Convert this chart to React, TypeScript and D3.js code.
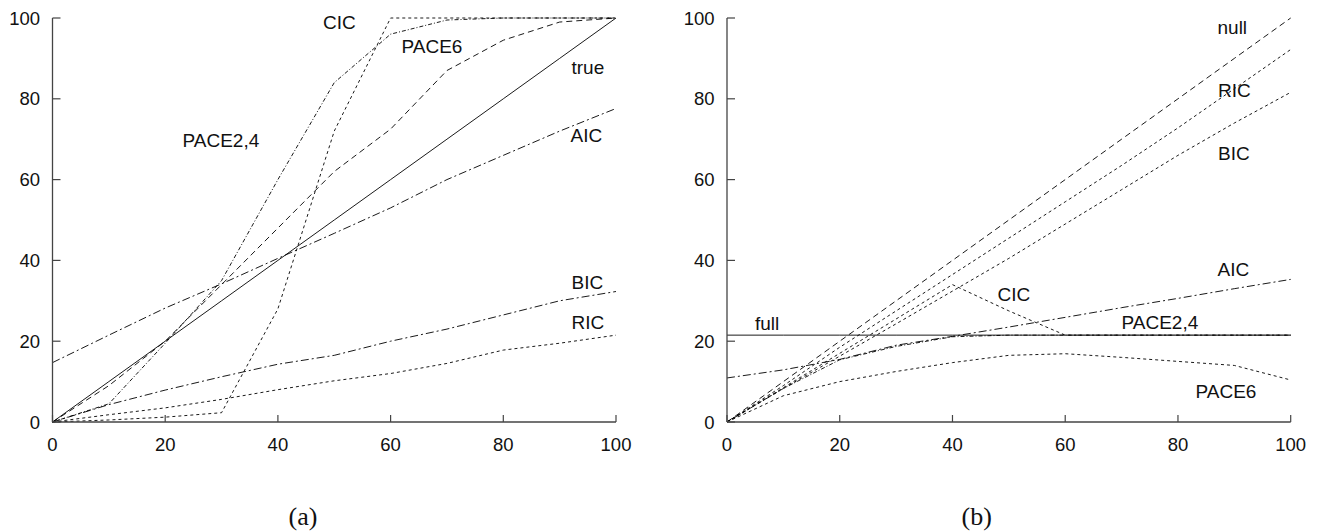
import React from "react";
import * as d3 from "d3";

const xs = [0, 10, 20, 30, 40, 50, 60, 70, 80, 90, 100];
const xTicks = [0, 20, 40, 60, 80, 100];
const yTicks = [0, 20, 40, 60, 80, 100];

// Panel (a)
const trueA = [0, 10, 20, 30, 40, 50, 60, 70, 80, 90, 100];
const aicA = [14.7, 21.5, 28.2, 34.2, 40.5, 46.7, 53, 60, 66, 72, 77.6];
const bicA = [0, 4.3, 7.9, 11.2, 14.3, 16.5, 20, 23, 26.5, 30, 32.3];
const ricA = [0, 1.8, 3.5, 5.6, 8, 10.2, 12, 14.5, 17.8, 19.5, 21.5];
const cicA = [0, 0.5, 1.2, 2.3, 28, 72, 100, 100, 100, 100, 100];
const pace24A = [0, 4.5, 19.5, 35, 60, 84, 96, 99.5, 100, 100, 100];
const pace6A = [0, 9, 20, 34, 48, 62, 72.5, 87, 94.5, 99, 100];

// Panel (b)
const fullB = [21.5, 21.5, 21.5, 21.5, 21.5, 21.5, 21.5, 21.5, 21.5, 21.5, 21.5];
const nullB = [0, 10, 20, 30, 40, 50, 60, 70, 80, 90, 100];
const ricB = [0, 9, 18.5, 27.5, 36.5, 45.5, 54.5, 63.5, 72.8, 82.5, 92.2];
const bicB = [0, 8.3, 16.3, 24.3, 32.4, 40.5, 49, 57.5, 66, 74, 81.6];
const aicB = [10.9, 12.9, 15.5, 19, 21.2, 23.5, 25.9, 28.3, 30.6, 33, 35.3];
const cicB = [0, 8.5, 17, 25.5, 34, 27.5, 21.5, 21.5, 21.5, 21.5, 21.5];
const pace24B = [0, 8.3, 15.4, 18.7, 21.1, 21.5, 21.5, 21.5, 21.5, 21.5, 21.5];
const pace6B = [0, 6.5, 10, 12.5, 14.7, 16.5, 16.9, 16, 15, 14, 10.4];

const SOLID = "none";
const LONG = "6,4";
const SHORT = "3,3";
const DASHDOT = "8,3,2,3";
const FINEDD = "4,2,1,2";

type Series = { vals: number[]; dash: string };
type Label = { text: string; x: number; y: number };

const panelA: Series[] = [
  { vals: trueA, dash: SOLID },
  { vals: aicA, dash: DASHDOT },
  { vals: bicA, dash: DASHDOT },
  { vals: ricA, dash: SHORT },
  { vals: cicA, dash: SHORT },
  { vals: pace24A, dash: FINEDD },
  { vals: pace6A, dash: LONG },
];
const labelsA: Label[] = [
  { text: "CIC", x: 323, y: 28.5 },
  { text: "PACE6", x: 401.5, y: 53 },
  { text: "true", x: 571.5, y: 73.5 },
  { text: "AIC", x: 570.5, y: 142 },
  { text: "PACE2,4", x: 182.5, y: 146.5 },
  { text: "BIC", x: 571.5, y: 288.5 },
  { text: "RIC", x: 571.5, y: 328.5 },
];

const panelB: Series[] = [
  { vals: fullB, dash: SOLID },
  { vals: nullB, dash: LONG },
  { vals: ricB, dash: SHORT },
  { vals: bicB, dash: SHORT },
  { vals: aicB, dash: DASHDOT },
  { vals: cicB, dash: SHORT },
  { vals: pace24B, dash: FINEDD },
  { vals: pace6B, dash: SHORT },
];
const labelsB: Label[] = [
  { text: "null", x: 1217.5, y: 33.5 },
  { text: "RIC", x: 1218, y: 96.5 },
  { text: "BIC", x: 1218, y: 159.5 },
  { text: "AIC", x: 1217.5, y: 276 },
  { text: "CIC", x: 997.5, y: 301 },
  { text: "PACE2,4", x: 1121.5, y: 329 },
  { text: "PACE6", x: 1195.5, y: 398 },
  { text: "full", x: 755, y: 329.5 },
];

const FONT = "'Liberation Sans', Arial, Helvetica, sans-serif";

function Panel({
  x0,
  x1,
  series,
  labels,
  caption,
  captionX,
}: {
  x0: number;
  x1: number;
  series: Series[];
  labels: Label[];
  caption: string;
  captionX: number;
}) {
  const xScale = d3.scaleLinear().domain([0, 100]).range([x0, x1]);
  const yScale = d3.scaleLinear().domain([0, 100]).range([422, 18]);
  const line = d3
    .line<number>()
    .x((_, i) => xScale(xs[i]))
    .y((d) => yScale(d));
  const axisColor = "#444";
  return (
    <g>
      {series.map((s, i) => (
        <path
          key={i}
          d={line(s.vals) || ""}
          fill="none"
          stroke="#000"
          strokeWidth={0.9}
          strokeDasharray={s.dash === SOLID ? undefined : s.dash}
        />
      ))}
      <line x1={x0} x2={x0} y1={yScale(100)} y2={yScale(0)} stroke={axisColor} strokeWidth={1.3} />
      <line x1={x0} x2={x1} y1={yScale(0)} y2={yScale(0)} stroke={axisColor} strokeWidth={1.3} />
      {yTicks.map((t) => (
        <g key={"y" + t}>
          <line x1={x0} x2={x0 + 8} y1={yScale(t)} y2={yScale(t)} stroke={axisColor} strokeWidth={1.2} />
          <text
            x={x0 - 12.5}
            y={yScale(t) + 6.5}
            textAnchor="end"
            fontFamily={FONT}
            fontSize={18.5}
            fill="#111"
          >
            {t}
          </text>
        </g>
      ))}
      {xTicks.map((t) => (
        <g key={"x" + t}>
          <line x1={xScale(t)} x2={xScale(t)} y1={yScale(0)} y2={yScale(0) - 7} stroke={axisColor} strokeWidth={1.2} />
          <text
            x={xScale(t)}
            y={451}
            textAnchor="middle"
            fontFamily={FONT}
            fontSize={18.5}
            fill="#111"
          >
            {t}
          </text>
        </g>
      ))}
      {labels.map((l) => (
        <text key={l.text} x={l.x} y={l.y} fontFamily={FONT} fontSize={19} fill="#111">
          {l.text}
        </text>
      ))}
      <text
        x={captionX}
        y={525}
        textAnchor="middle"
        fontFamily="'Liberation Serif', 'DejaVu Serif', serif"
        fontSize={26}
        fill="#111"
      >
        {caption}
      </text>
    </g>
  );
}

export default function App() {
  return (
    <svg
      width={1323}
      height={531}
      style={{ position: "absolute", left: 0, top: 0, display: "block", background: "#fff" }}
    >
      <rect x={0} y={0} width={1323} height={531} fill="#fff" />
      <Panel x0={52.5} x1={616} series={panelA} labels={labelsA} caption="(a)" captionX={303} />
      <Panel x0={727} x1={1290.7} series={panelB} labels={labelsB} caption="(b)" captionX={976.7} />
    </svg>
  );
}
